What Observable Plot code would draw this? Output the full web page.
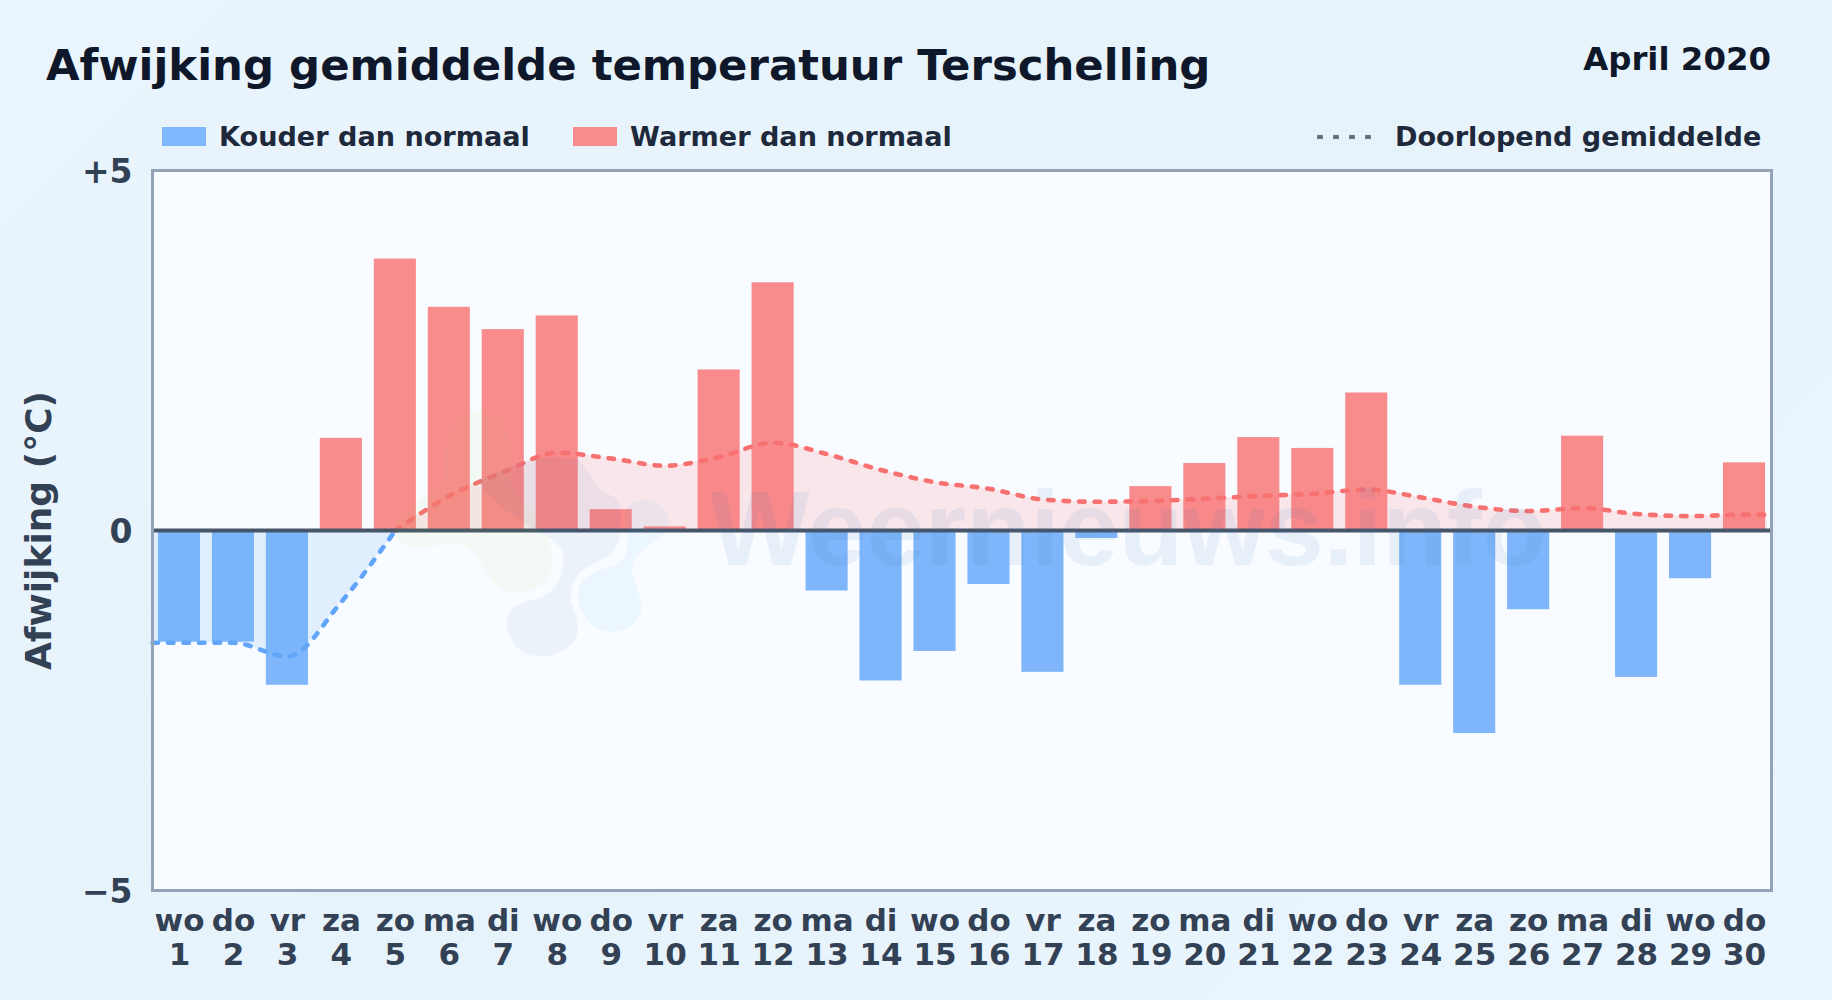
<!DOCTYPE html>
<html lang="nl">
<head>
<meta charset="utf-8">
<title>Afwijking gemiddelde temperatuur Terschelling</title>
<script src="https://cdn.jsdelivr.net/npm/d3@7"></script>
<script src="https://cdn.jsdelivr.net/npm/@observablehq/plot@0.6"></script>
<style>
html,body{margin:0;padding:0;width:1832px;height:1000px;overflow:hidden;}
body{background:linear-gradient(135deg,#e9f4fc 0%,#e7f3fb 50%,#eaf5fd 100%);font-family:"DejaVu Sans",sans-serif;font-weight:700;position:relative;}
.t{position:absolute;white-space:nowrap;line-height:normal;}
#title{left:46px;top:40px;font-size:43.4px;color:#0f172a;}
#period{right:61px;top:40px;font-size:32.4px;color:#0f172a;}
.leg{font-size:27.1px;color:#1e293b;top:121px;}
.sw{position:absolute;top:127px;width:44px;height:19px;}
#dots{position:absolute;left:1317px;top:135px;width:58px;height:4px;background:repeating-linear-gradient(90deg,#6b7280 0 6px,transparent 6px 16px);}
#chart{position:absolute;left:0;top:0;}
#wm{position:absolute;left:0;top:0;pointer-events:none;}
</style>
</head>
<body>
<div id="chart"></div>
<svg id="wm" width="1832" height="1000" viewBox="0 0 1832 1000" aria-hidden="true">
  <path fill="#a3d635" opacity="0.05" d="M395,532 C400,510 425,495 445,480 C440,450 450,412 478,410 C510,408 514,450 510,485 C525,510 550,525 553,560 C553,580 535,593 517,593 C500,593 490,580 483,567 C475,550 465,543 450,543 C435,545 400,555 395,532 Z"/>
  <path fill="#1e5aa8" opacity="0.055" d="M507,625 C505,608 520,602 540,598 C560,590 565,570 563,555 C560,540 545,535 535,530 C510,515 480,490 478,480 C500,470 540,450 578,460 C590,470 595,490 610,495 C625,500 620,515 620,533 C620,550 605,558 590,566 C575,572 567,590 572,605 C578,620 582,635 570,645 C555,660 525,660 515,645 C510,638 507,632 507,625 Z"/>
  <path fill="#38a8f0" opacity="0.06" d="M578,595 C578,575 600,570 615,565 C630,558 630,540 625,525 C622,510 630,500 645,500 C660,500 672,515 668,528 C660,545 635,545 632,570 C635,590 645,600 640,615 C632,632 610,635 597,628 C585,620 578,610 578,595 Z"/>
  <text x="710" y="565" font-family="Liberation Sans" font-weight="700" font-size="105.5" fill="#3b7ab8" opacity="0.085">Weernieuws.info</text>
</svg>
<div class="t" id="title">Afwijking gemiddelde temperatuur Terschelling</div>
<div class="t" id="period">April 2020</div>
<div class="sw" style="left:162px;background:#7eb7fb"></div>
<div class="t leg" style="left:219px">Kouder dan normaal</div>
<div class="sw" style="left:573px;background:#f88c8c"></div>
<div class="t leg" style="left:630px">Warmer dan normaal</div>
<div id="dots"></div>
<div class="t leg" style="left:1395px">Doorlopend gemiddelde</div>
<script>
const days = d3.range(1, 31);
const weekdays = ["wo","do","vr","za","zo","ma","di","wo","do","vr","za","zo","ma","di","wo","do","vr","za","zo","ma","di","wo","do","vr","za","zo","ma","di","wo","do"];
const deviation = [-1.55,-1.55,-2.15,1.28,3.77,3.10,2.79,2.98,0.29,0.05,2.23,3.44,-0.84,-2.09,-1.68,-0.75,-1.97,-0.11,0.61,0.93,1.29,1.14,1.91,-2.15,-2.82,-1.10,1.31,-2.04,-0.67,0.94];
const meanDays = [0.5,1,2,3,4,5,6,7,8,9,10,11,12,13,14,15,16,17,18,19,20,21,22,23,24,25,26,27,28,29,30,30.42];
const meanValues = [-1.56,-1.56,-1.56,-1.75,-0.99,0,0.48,0.81,1.08,1.00,0.90,1.02,1.22,1.06,0.84,0.67,0.58,0.43,0.40,0.41,0.44,0.48,0.51,0.57,0.46,0.33,0.27,0.31,0.23,0.20,0.22,0.22];
const yTicks = [-5, 0, 5];
const yTickLabels = ["−5", "0", "+5"];

const bars = days.map((day, i) => ({day, value: deviation[i]}));
const mean = meanDays.map((day, i) => ({day, value: meanValues[i]}));
const cold = mean.filter(d => d.day <= 5);
const warm = mean.filter(d => d.day >= 5);

const COLD = "#60a5fa", WARM = "#f87171", INK = "#334155";
const halfBar = 0.39;

const chart = Plot.plot({
  width: 1832,
  height: 1000,
  marginLeft: 152,
  marginRight: 61,
  marginTop: 170,
  marginBottom: 110,
  style: {background: "transparent", fontFamily: "'DejaVu Sans', sans-serif", fontWeight: 700},
  x: {type: "linear", domain: [0.5, 30.5], axis: null},
  y: {domain: [-5, 5], axis: null},
  marks: [
    Plot.frame({fill: "#f8fbff", stroke: "none"}),
    Plot.areaY(cold, {x: "day", y1: 0, y2: "value", curve: "monotone-x", fill: COLD, fillOpacity: 0.15}),
    Plot.areaY(warm, {x: "day", y1: 0, y2: "value", curve: "monotone-x", fill: WARM, fillOpacity: 0.15}),
    Plot.rectY(bars.filter(d => d.value < 0), {x1: d => d.day - halfBar, x2: d => d.day + halfBar, y: "value", fill: COLD, fillOpacity: 0.8}),
    Plot.rectY(bars.filter(d => d.value >= 0), {x1: d => d.day - halfBar, x2: d => d.day + halfBar, y: "value", fill: WARM, fillOpacity: 0.8}),
    Plot.line(cold, {x: "day", y: "value", curve: "monotone-x", stroke: COLD, strokeWidth: 4.6, strokeDasharray: "5.5 10", strokeLinecap: "round"}),
    Plot.line(warm, {x: "day", y: "value", curve: "monotone-x", stroke: WARM, strokeWidth: 4.6, strokeDasharray: "5.5 10", strokeLinecap: "round"}),
    Plot.ruleY([0], {stroke: "#475569", strokeWidth: 4}),
    Plot.frame({stroke: "#94a3b8", strokeWidth: 3}),
    Plot.axisY({ticks: yTicks, tickFormat: v => yTickLabels[yTicks.indexOf(v)], tickSize: 0, tickPadding: 20, dy: 1.5, fontSize: 33, fill: INK, label: null}),
    Plot.axisX({ticks: days, tickFormat: d => `${weekdays[d - 1]}\n${d}`, tickSize: 0, tickPadding: 17, fontSize: 31, lineHeight: 1.08, fill: INK, label: null}),
    Plot.text(["Afwijking (°C)"], {frameAnchor: "left", textAnchor: "middle", rotate: -90, dx: -113, fontSize: 36, fill: INK})
  ]
});
document.getElementById("chart").append(chart);
</script>
</body>
</html>
